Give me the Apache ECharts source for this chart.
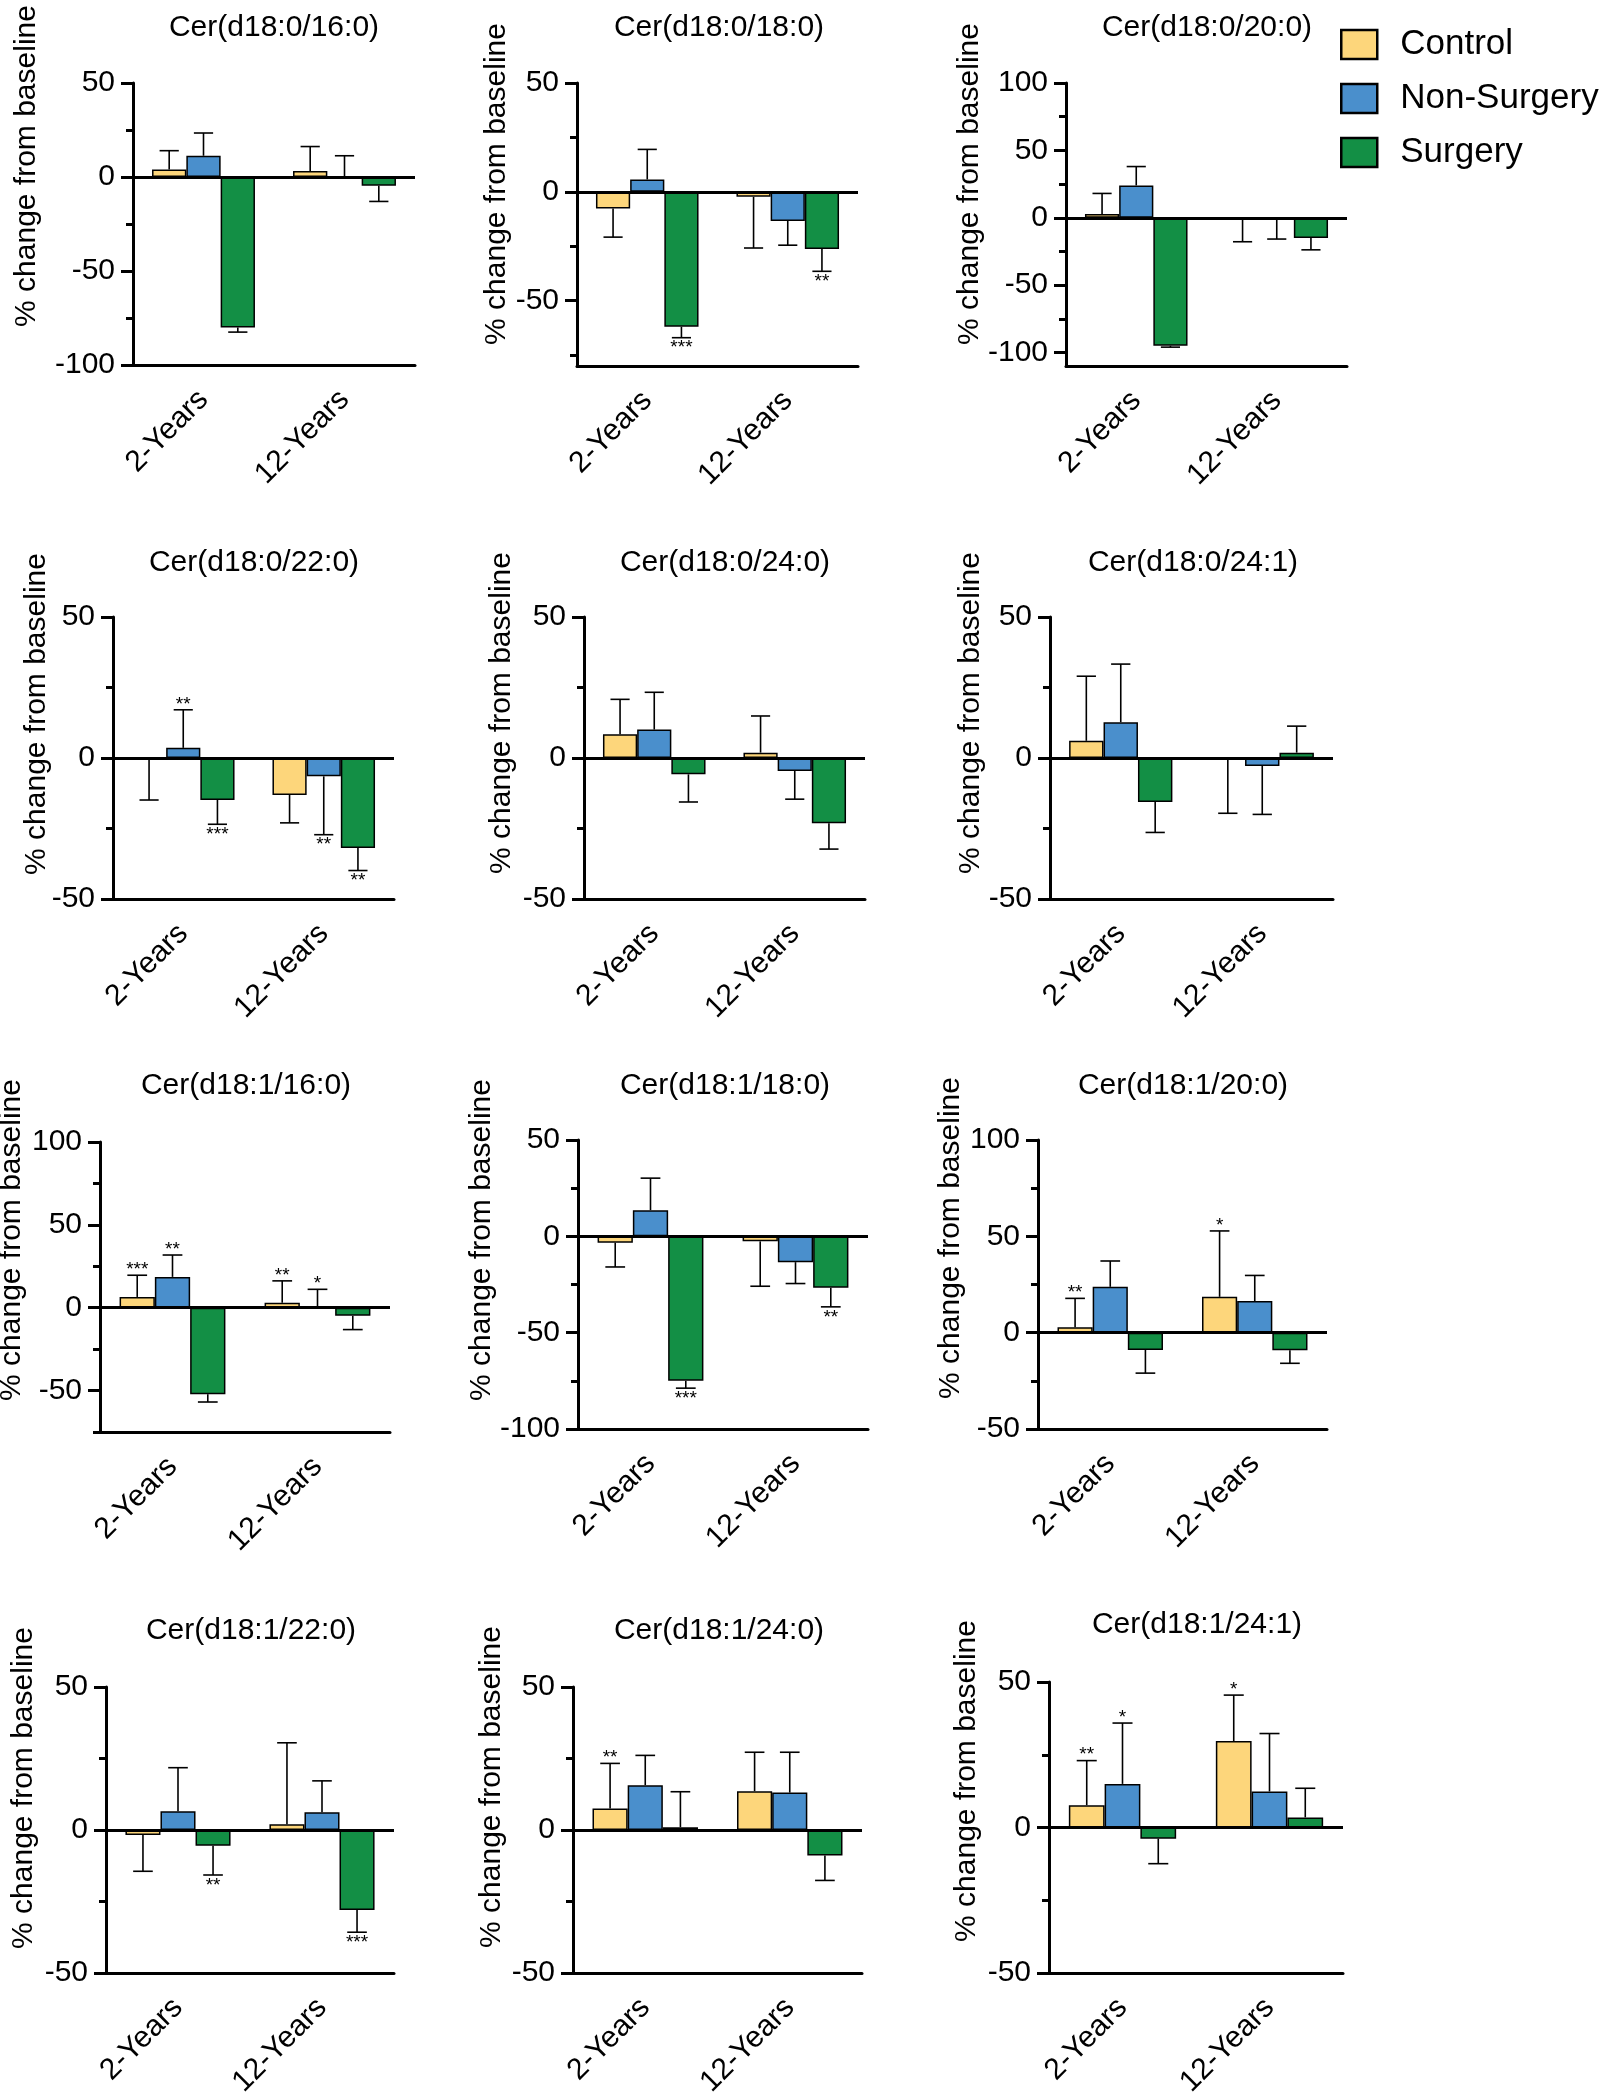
<!DOCTYPE html>
<html><head><meta charset="utf-8">
<script src="https://cdn.jsdelivr.net/npm/echarts@6/dist/echarts.min.js"></script>
<style>html,body{margin:0;padding:0;background:#fff}#c{width:1601px;height:2100px}</style>
</head><body><div id="c"></div>
<script>
// ---------------- DATA ----------------
const categories = ['2-Years', '12-Years'];
const groups = ['Control', 'Non-Surgery', 'Surgery'];
const panelTitles = [
  'Cer(d18:0/16:0)', 'Cer(d18:0/18:0)', 'Cer(d18:0/20:0)',
  'Cer(d18:0/22:0)', 'Cer(d18:0/24:0)', 'Cer(d18:0/24:1)',
  'Cer(d18:1/16:0)', 'Cer(d18:1/18:0)', 'Cer(d18:1/20:0)',
  'Cer(d18:1/22:0)', 'Cer(d18:1/24:0)', 'Cer(d18:1/24:1)'
];
const yAxisName = '% change from baseline';
const yMax = [50, 50, 100, 50, 50, 50, 100, 50, 100, 50, 50, 50];
const yMin = [-100, -80, -110, -50, -50, -50, -75, -100, -50, -50, -50, -50];

// mean [2-Years, 12-Years] per panel
const controlMean = [[4, 3.2], [-7.7, -2.3], [2.75, -0.3], [-0.3, -13.1], [8.4, 1.9], [6.1, -0.3],
  [6.5, 3], [-3.3, -2.6], [2.8, 18.6], [-1.7, 2], [7.5, 13.6], [7.7, 29.7]];
const controlErr = [[10, 13], [13.1, 23.5], [15.3, 17.5], [14.6, 9.9], [12.4, 13], [22.9, 19.3],
  [13.1, 13.2], [12.6, 23.3], [15, 34.2], [12.7, 28.5], [15.8, 13.6], [15.3, 15.8]];
const nonSurgeryMean = [[11.3, 0.3], [5.7, -13.4], [24, -1], [3.6, -6.5], [10.1, -4.6], [12.7, -2.8],
  [18.6, 0.3], [13.6, -13.4], [23.8, 16.4], [6.6, 6.2], [15.7, 13.1], [15, 12.4]];
const nonSurgeryErr = [[12.1, 11], [13.8, 11.1], [14, 14.8], [13.5, 20.7], [13.2, 10], [20.6, 17.2],
  [13.2, 10.8], [16.6, 11.1], [13.4, 13.3], [15.2, 11], [10.4, 14.1], [20.9, 19.9]];
const surgeryMean = [[-80, -4.6], [-62, -26.3], [-95, -15], [-14.9, -31.9], [-5.8, -23.1], [-15.6, 1.9],
  [-52.2, -4.9], [-75, -26.7], [-9, -9.1], [-5.5, -27.9], [1, -8.9], [-3.8, 3.5]];
const surgeryErr = [[2.5, 8.4], [5, 10.2], [1, 8.8], [8.6, 8], [9.8, 9.2], [10.8, 9.4],
  [4.7, 8.3], [3.8, 9.9], [12, 6.8], [10.2, 7.8], [12.4, 8.7], [8.6, 10]];

// significance marks
const controlStars = [['', ''], ['', ''], ['', ''], ['', ''], ['', ''], ['', ''],
  ['***', '**'], ['', ''], ['**', '*'], ['', ''], ['**', ''], ['**', '*']];
const nonSurgeryStars = [['', ''], ['', ''], ['', ''], ['**', '**'], ['', ''], ['', ''],
  ['**', '*'], ['', ''], ['', ''], ['', ''], ['', ''], ['*', '']];
const surgeryStars = [['', ''], ['***', '**'], ['', ''], ['***', '**'], ['', ''], ['', ''],
  ['', ''], ['***', '**'], ['', ''], ['**', '***'], ['', ''], ['', '']];

// ---------------- STYLE / LAYOUT ----------------
const groupColors = ['#FDD67B', '#4A8FCC', '#138F45'];
const FONT = '"Liberation Sans", Arial, Helvetica, sans-serif';
const layout = [
  {l:133, r:415, t:83, b:365, tx:274, ty:28, nx:27, ny:166},
  {l:577, r:858, t:83, b:366, tx:719, ty:28, nx:497, ny:184},
  {l:1066, r:1347, t:83, b:366, tx:1207, ty:28, nx:970, ny:184},
  {l:113, r:394, t:617, b:899, tx:254, ty:563, nx:37, ny:714},
  {l:584, r:865, t:617, b:899, tx:725, ty:563, nx:502, ny:713},
  {l:1050, r:1333, t:617, b:899, tx:1193, ty:563, nx:971, ny:713},
  {l:100, r:390, t:1142, b:1432, tx:246, ty:1086, nx:12, ny:1240},
  {l:578, r:868, t:1140, b:1429, tx:725, ty:1086, nx:482, ny:1240},
  {l:1038, r:1327, t:1140, b:1429, tx:1183, ty:1086, nx:951, ny:1238},
  {l:106, r:394, t:1687, b:1977, tx:251, ty:1631, nx:24, ny:1788},
  {l:573, r:862, t:1687, b:1977, tx:719, ty:1631, nx:492, ny:1787},
  {l:1049, r:1343, t:1682, b:1977, tx:1197, ty:1625, nx:967, ny:1781}
];

const means = [controlMean, nonSurgeryMean, surgeryMean];
const errs = [controlErr, nonSurgeryErr, surgeryErr];
const stars = [controlStars, nonSurgeryStars, surgeryStars];
const CAT_GAP = 0.27;

function multiples(min, max, step) {
  const out = [];
  for (let v = Math.ceil(min / step) * step; v <= max + 1e-9; v += step) out.push(v);
  return out;
}

const grid = [], xAxis = [], yAxis = [], series = [], graphic = [];

layout.forEach((L, p) => {
  grid.push({left: L.l, top: L.t, width: L.r - L.l, height: L.b - L.t, containLabel: false});
  xAxis.push({
    type: 'category', gridIndex: p, data: categories, position: 'bottom',
    axisLine: {onZero: false, lineStyle: {color: '#000', width: 3}},
    axisTick: {alignWithLabel: true, length: 12, lineStyle: {color: '#000', width: 3}},
    axisLabel: {rotate: 45, fontSize: 30, color: '#000', fontFamily: FONT, margin: 30, interval: 0},
    splitLine: {show: false}
  });
  const majors = multiples(yMin[p], yMax[p], 50);
  const minors = multiples(yMin[p], yMax[p], 25);
  yAxis.push({
    type: 'value', gridIndex: p, position: 'left', min: yMin[p], max: yMax[p],
    axisLine: {show: true, onZero: false, lineStyle: {color: '#000', width: 3}},
    axisTick: {show: true, length: 12, lineStyle: {color: '#000', width: 3}, customValues: majors},
    axisLabel: {customValues: majors, fontSize: 30, color: '#000', fontFamily: FONT, margin: 18},
    splitLine: {show: false}
  });
  yAxis.push({
    type: 'value', gridIndex: p, position: 'left', min: yMin[p], max: yMax[p],
    axisLine: {show: false},
    axisTick: {show: true, length: 7, lineStyle: {color: '#000', width: 3}, customValues: minors},
    axisLabel: {show: false},
    splitLine: {show: false}
  });

  groups.forEach((g, gi) => {
    const s = {
      name: g, type: 'bar', xAxisIndex: p, yAxisIndex: 2 * p,
      data: means[gi][p],
      barGap: '0%', barCategoryGap: (CAT_GAP * 100) + '%',
      itemStyle: {color: groupColors[gi], borderColor: '#000', borderWidth: 1.5},
      emphasis: {disabled: true}, silent: true, z: 2
    };
    if (gi === 0) {
      s.markLine = {
        silent: true, symbol: ['none', 'none'], animation: false,
        label: {show: false},
        lineStyle: {color: '#000', width: 3, type: 'solid'},
        emphasis: {disabled: true},
        data: [{yAxis: 0}]
      };
    }
    series.push(s);
  });

  const items = [];
  for (let gi = 0; gi < 3; gi++) {
    for (let c = 0; c < 2; c++) {
      items.push({value: [c, gi, means[gi][p][c], errs[gi][p][c]], star: stars[gi][p][c]});
    }
  }
  series.push({
    type: 'custom', xAxisIndex: p, yAxisIndex: 2 * p, silent: true, z: 6,
    data: items.map(d => d.value),
    encode: {x: 0, y: 2},
    renderItem: (params, api) => {
      const it = items[params.dataIndex];
      const cat = it.value[0], gi = it.value[1], mean = it.value[2], err = it.value[3];
      const catW = api.size([1, 0])[0];
      const bw = catW * (1 - CAT_GAP) / 3;
      const base = api.coord([cat, mean]);
      const x = base[0] + (gi - 1) * bw;
      const dir = mean >= 0 ? 1 : -1;
      const tipY = api.coord([cat, mean + dir * err])[1];
      const cap = bw * 0.56;
      const ls = {stroke: '#000', lineWidth: 1.6};
      const children = [
        {type: 'line', shape: {x1: x, y1: base[1], x2: x, y2: tipY}, style: ls},
        {type: 'line', shape: {x1: x - cap / 2, y1: tipY, x2: x + cap / 2, y2: tipY}, style: ls}
      ];
      if (it.star) {
        children.push({
          type: 'text',
          style: {
            text: it.star, x: x, y: dir > 0 ? tipY + 4 : tipY + 1,
            align: 'center', verticalAlign: dir > 0 ? 'bottom' : 'top',
            fontSize: 19, fontFamily: FONT, fill: '#000'
          }
        });
      }
      return {type: 'group', children: children};
    }
  });

  graphic.push({
    type: 'text', x: L.tx, y: L.ty, silent: true,
    style: {text: panelTitles[p], fontSize: 30, fontFamily: FONT, fill: '#000',
      align: 'center', verticalAlign: 'middle'}
  });
  graphic.push({
    type: 'text', x: L.nx, y: L.ny, rotation: Math.PI / 2, silent: true,
    style: {text: yAxisName, fontSize: 30, fontFamily: FONT, fill: '#000',
      align: 'center', verticalAlign: 'middle'}
  });
});

const chart = echarts.init(document.getElementById('c'), null, {renderer: 'canvas'});
chart.setOption({
  backgroundColor: '#fff',
  animation: false,
  textStyle: {fontFamily: FONT},
  legend: {
    data: groups, orient: 'vertical', left: 1340, top: 27,
    icon: 'rect', itemWidth: 36, itemHeight: 29, itemGap: 19, padding: 0,
    itemStyle: {borderColor: '#000', borderWidth: 2.5},
    textStyle: {fontSize: 35, color: '#000', fontFamily: FONT, lineHeight: 29, padding: [0, 0, 0, 18]},
    selectedMode: false
  },
  grid, xAxis, yAxis, series, graphic
});
</script>
</body></html>
